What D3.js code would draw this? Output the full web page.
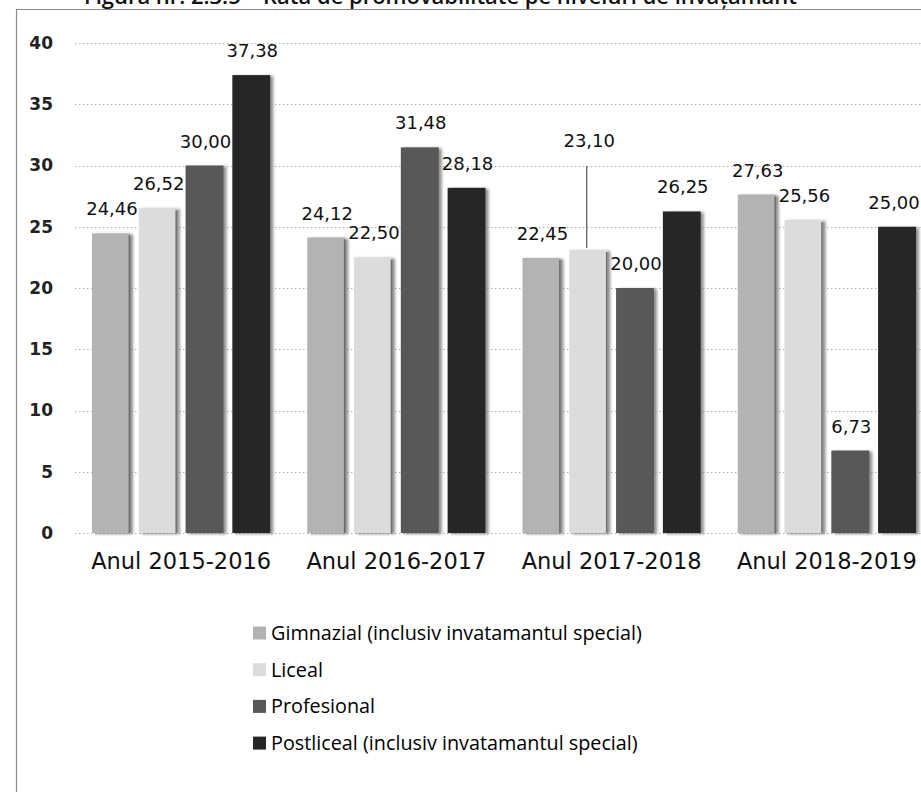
<!DOCTYPE html>
<html>
<head>
<meta charset="utf-8">
<script src="https://cdn.jsdelivr.net/npm/d3@7"></script>
<style>
  html, body { margin: 0; padding: 0; background: #fff; }
  svg { display: block; }
</style>
</head>
<body>
<script>
// ---- data ----
const titleText = "Figura nr. 2.3.5 – Rata de promovabilitate pe niveluri de învățământ";
const categories = ["Anul 2015-2016", "Anul 2016-2017", "Anul 2017-2018", "Anul 2018-2019"];
const seriesNames = [
  "Gimnazial (inclusiv invatamantul special)",
  "Liceal",
  "Profesional",
  "Postliceal (inclusiv invatamantul special)"
];
const gimnazial  = [24.46, 24.12, 22.45, 27.63];
const liceal     = [26.52, 22.50, 23.10, 25.56];
const profesional = [30.00, 31.48, 20.00, 6.73];
const postliceal = [37.38, 28.18, 26.25, 25.00];
const yTicks = [0, 5, 10, 15, 20, 25, 30, 35, 40];

// ---- style ----
const W = 921, H = 792;
const colors = ["#b3b3b3", "#dcdcdc", "#585858", "#262626"];
const edgeColors = ["#6a6a6a", "#6f6f6f", null, null];
// label with leader line (category index, series index) -> extra lift in px
const leaderLabels = [{ c: 2, s: 1, lift: 85 }];

const seriesValues = [gimnazial, liceal, profesional, postliceal];
const rows = [];
categories.forEach((cat, ci) => {
  seriesNames.forEach((s, si) => rows.push({ cat, ci, s, si, v: seriesValues[si][ci] }));
});

const svg = d3.select("body").append("svg").attr("width", W).attr("height", H);

const defs = svg.append("defs");
const f = defs.append("filter").attr("id", "shadow").attr("x", "-20%").attr("y", "-5%").attr("width", "150%").attr("height", "115%");
f.append("feDropShadow").attr("dx", 3).attr("dy", 1).attr("stdDeviation", 1.4).attr("flood-color", "#6f6f6f").attr("flood-opacity", 0.8);

// frame
svg.append("line").attr("x1", 16.5).attr("x2", 16.5).attr("y1", 9).attr("y2", H).attr("stroke", "#8a8a8a").attr("stroke-width", 1.2);
svg.append("line").attr("x1", 16).attr("x2", W).attr("y1", 9.5).attr("y2", 9.5).attr("stroke", "#8a8a8a").attr("stroke-width", 1.2);

// title (cut off at the top, as in the scan)
svg.append("text")
  .attr("x", 84).attr("y", 4)
  .attr("textLength", 713).attr("lengthAdjust", "spacingAndGlyphs")
  .attr("font-family", "'Open Sans', sans-serif").attr("font-size", 21).attr("font-weight", 600)
  .attr("fill", "#111")
  .text(titleText);

// scales
const x0 = d3.scaleBand().domain(categories).range([73.5, 934.5]).paddingInner(0.172).paddingOuter(0.086);
const x1 = d3.scaleBand().domain(seriesNames).range([0, x0.bandwidth()]).paddingInner(0.19);
const y = d3.scaleLinear().domain([0, 40]).range([533, 43]);

// gridlines
svg.append("g").selectAll("line").data(yTicks).join("line")
  .attr("x1", 75).attr("x2", W)
  .attr("y1", d => Math.round(y(d)) + 0.5).attr("y2", d => Math.round(y(d)) + 0.5)
  .attr("stroke", "#b0b0b0").attr("stroke-width", 1).attr("stroke-dasharray", "1.5,2.5");

// y axis labels
const yAxis = d3.axisLeft(y).tickValues(yTicks).tickSize(0).tickPadding(0).tickFormat(d3.format("d"));
const ya = svg.append("g").attr("transform", "translate(53,0)").call(yAxis);
ya.select(".domain").remove();
ya.selectAll("text")
  .attr("font-family", "'DejaVu Sans', sans-serif").attr("font-size", 17).attr("font-weight", "bold")
  .attr("fill", "#222");

// x axis labels
const xAxis = d3.axisBottom(x0).tickSize(0).tickPadding(0);
const xa = svg.append("g").attr("transform", "translate(0,553)").call(xAxis);
xa.select(".domain").remove();
xa.selectAll("text")
  .attr("font-family", "'DejaVu Sans', sans-serif").attr("font-size", 22.5)
  .attr("fill", "#111").attr("dy", "0.71em");

// bars
const bars = svg.append("g");
bars.selectAll("rect").data(rows).join("rect")
  .attr("x", d => x0(d.cat) + x1(d.s))
  .attr("y", d => y(d.v))
  .attr("width", x1.bandwidth())
  .attr("height", d => y(0) - y(d.v))
  .attr("fill", d => colors[d.si])
  .attr("filter", "url(#shadow)");

// dark right edge lines for light bars
bars.selectAll("line.edge").data(rows.filter(d => edgeColors[d.si])).join("line")
  .attr("class", "edge")
  .attr("x1", d => x0(d.cat) + x1(d.s) + x1.bandwidth() - 0.5)
  .attr("x2", d => x0(d.cat) + x1(d.s) + x1.bandwidth() - 0.5)
  .attr("y1", d => y(d.v) + 2).attr("y2", y(0))
  .attr("stroke", d => edgeColors[d.si]).attr("stroke-width", 1.5);

// value labels
const fmt = v => d3.format(".2f")(v).replace(".", ",");
const liftOf = d => {
  const l = leaderLabels.find(o => o.c === d.ci && o.s === d.si);
  return l ? l.lift : 0;
};
svg.append("g").selectAll("line").data(rows.filter(d => liftOf(d) > 0)).join("line")
  .attr("x1", d => x0(d.cat) + x1(d.s) + x1.bandwidth() / 2 - 1.5)
  .attr("x2", d => x0(d.cat) + x1(d.s) + x1.bandwidth() / 2 - 1.5)
  .attr("y1", d => y(d.v) - liftOf(d) + 1)
  .attr("y2", d => y(d.v) - 2)
  .attr("stroke", "#555").attr("stroke-width", 1.2);

svg.append("g").selectAll("text").data(rows).join("text")
  .attr("x", d => Math.min(x0(d.cat) + x1(d.s) + x1.bandwidth() / 2 + 1, W - 27))
  .attr("y", d => y(d.v) - 18 - liftOf(d))
  .attr("text-anchor", "middle")
  .attr("font-family", "'DejaVu Sans', sans-serif").attr("font-size", 18)
  .attr("fill", "#111")
  .text(d => fmt(d.v));

// legend
const leg = svg.append("g").attr("transform", "translate(253,633)");
const li = leg.selectAll("g").data(seriesNames).join("g")
  .attr("transform", (d, i) => `translate(0,${i * 36.7})`);
li.append("rect").attr("x", 0).attr("y", -6.5).attr("width", 13).attr("height", 13)
  .attr("fill", (d, i) => colors[i]);
li.append("text").attr("x", 18).attr("y", 0).attr("dy", "0.35em")
  .attr("font-family", "'Open Sans', sans-serif").attr("font-size", 19.8)
  .attr("fill", "#000")
  .text(d => d);
</script>
</body>
</html>
